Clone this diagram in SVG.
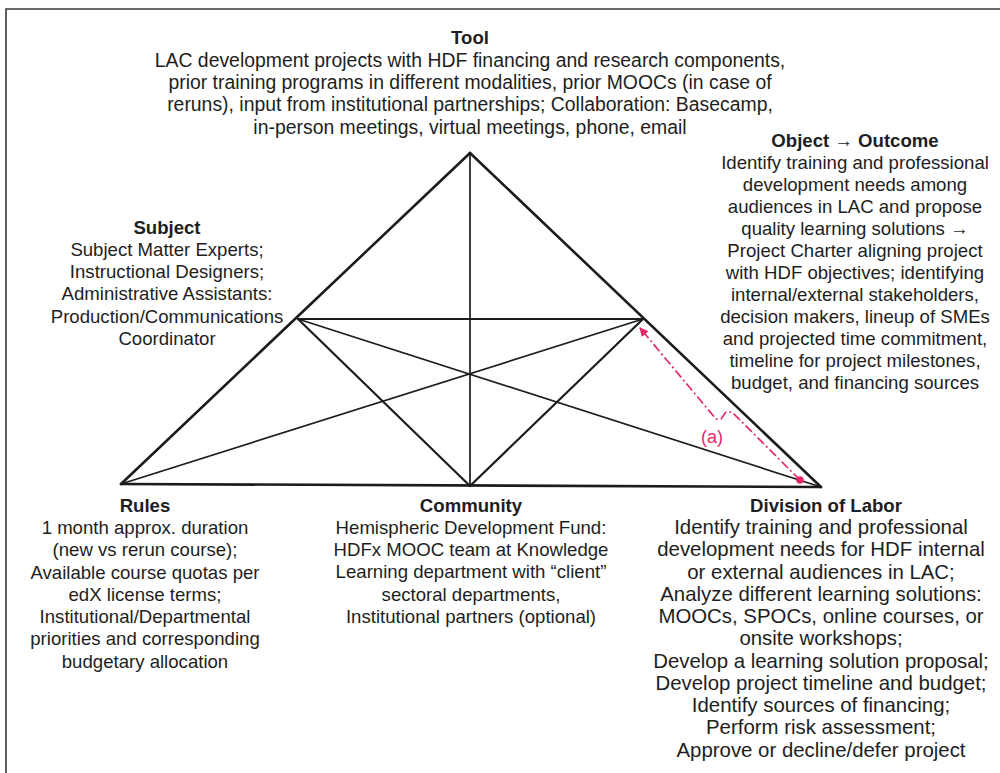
<svg xmlns="http://www.w3.org/2000/svg" width="1000" height="773" viewBox="0 0 1000 773">
  <defs>
    <style>
      text { font-family: "Liberation Sans", Arial, sans-serif; fill: #1e1e1e; text-anchor: middle; }
      .body { font-size: 18.6px; }
      .wide { font-size: 19.4px; }
      .head { font-size: 18.6px; font-weight: bold; }
      .dol { font-size: 20.4px; }
      .edge { stroke: #1c1c1c; stroke-width: 2.6; fill: none; stroke-linecap: round; }
      .inner { stroke: #1c1c1c; stroke-width: 2.2; fill: none; stroke-linecap: round; }
      .thin { stroke: #1c1c1c; stroke-width: 1.7; fill: none; stroke-linecap: round; }
      .trace { stroke: #e6286a; stroke-width: 1.7; fill: none; stroke-dasharray: 9 3 2 3; }
      .trace-label { font-size: 18px; fill: #e6286a; }
    </style>
    <marker id="redHead" viewBox="0 0 10 10" refX="9" refY="5" markerWidth="9" markerHeight="9" markerUnits="userSpaceOnUse" orient="auto">
      <path d="M0,0 L10,5 L0,10 z" fill="#e6286a"/>
    </marker>
  </defs>

  <rect x="0" y="0" width="1000" height="773" fill="#ffffff"/>

  <!-- frame: top and left rules only -->
  <path d="M6,773 L6,9 L1000,9" fill="none" stroke="#3a3a3a" stroke-width="1.6"/>

  <!-- activity-system triangle -->
  <g id="connectors">
    <line class="edge" x1="470" y1="153" x2="121" y2="484"/>
    <line class="edge" x1="470" y1="153" x2="821" y2="487"/>
    <line class="edge" x1="121" y1="484" x2="821" y2="487"/>
    <line class="inner" x1="298" y1="319" x2="643" y2="319"/>
    <line class="thin" x1="470" y1="153" x2="470" y2="486"/>
    <line class="inner" x1="298" y1="319" x2="470" y2="486"/>
    <line class="inner" x1="643" y1="319" x2="470" y2="486"/>
    <line class="thin" x1="298" y1="319" x2="821" y2="487"/>
    <line class="thin" x1="643" y1="319" x2="121" y2="484"/>

    <!-- trace (a): division of labor back to object -->
    <g id="trace-a">
      <path class="trace" d="M800,480 L732,412 L726,412 L721,419 L716,419 L640,328" marker-end="url(#redHead)"/>
      <circle cx="800" cy="480" r="3.8" fill="#e6286a"/>
      <text class="trace-label" x="712" y="443">(a)</text>
    </g>
  </g>

  <g id="tool">
    <text class="head" x="470" y="44">Tool</text>
    <text class="wide" x="470" y="67">LAC development projects with HDF financing and research components,</text>
    <text class="wide" x="470" y="89">prior training programs in different modalities, prior MOOCs (in case of</text>
    <text class="wide" x="470" y="111">reruns), input from institutional partnerships; Collaboration: Basecamp,</text>
    <text class="wide" x="470" y="134">in-person meetings, virtual meetings, phone, email</text>
  </g>

  <g id="subject">
    <text class="head" x="167" y="234">Subject</text>
    <text class="body" x="167" y="256">Subject Matter Experts;</text>
    <text class="body" x="167" y="278">Instructional Designers;</text>
    <text class="body" x="167" y="300">Administrative Assistants:</text>
    <text class="body" x="167" y="323">Production/Communications</text>
    <text class="body" x="167" y="345">Coordinator</text>
  </g>

  <g id="object-outcome">
    <text class="head" x="855" y="147">Object → Outcome</text>
    <text class="body" x="855" y="169">Identify training and professional</text>
    <text class="body" x="855" y="191">development needs among</text>
    <text class="body" x="855" y="213">audiences in LAC and propose</text>
    <text class="body" x="855" y="235">quality learning solutions →</text>
    <text class="body" x="855" y="257">Project Charter aligning project</text>
    <text class="body" x="855" y="279">with HDF objectives; identifying</text>
    <text class="body" x="855" y="301">internal/external stakeholders,</text>
    <text class="body" x="855" y="323">decision makers, lineup of SMEs</text>
    <text class="body" x="855" y="345">and projected time commitment,</text>
    <text class="body" x="855" y="367">timeline for project milestones,</text>
    <text class="body" x="855" y="389">budget, and financing sources</text>
  </g>

  <g id="rules">
    <text class="head" x="145" y="512">Rules</text>
    <text class="body" x="145" y="534">1 month approx. duration</text>
    <text class="body" x="145" y="556">(new vs rerun course);</text>
    <text class="body" x="145" y="579">Available course quotas per</text>
    <text class="body" x="145" y="601">edX license terms;</text>
    <text class="body" x="145" y="623">Institutional/Departmental</text>
    <text class="body" x="145" y="645">priorities and corresponding</text>
    <text class="body" x="145" y="668">budgetary allocation</text>
  </g>

  <g id="community">
    <text class="head" x="471" y="512">Community</text>
    <text class="body" x="471" y="534">Hemispheric Development Fund:</text>
    <text class="body" x="471" y="556">HDFx MOOC team at Knowledge</text>
    <text class="body" x="471" y="578">Learning department with “client”</text>
    <text class="body" x="471" y="601">sectoral departments,</text>
    <text class="body" x="471" y="623">Institutional partners (optional)</text>
  </g>

  <g id="division-of-labor">
    <text class="head" x="826" y="512">Division of Labor</text>
    <text class="dol" x="821" y="534">Identify training and professional</text>
    <text class="dol" x="821" y="556">development needs for HDF internal</text>
    <text class="dol" x="821" y="579">or external audiences in LAC;</text>
    <text class="dol" x="821" y="601">Analyze different learning solutions:</text>
    <text class="dol" x="821" y="623">MOOCs, SPOCs, online courses, or</text>
    <text class="dol" x="821" y="645">onsite workshops;</text>
    <text class="dol" x="821" y="668">Develop a learning solution proposal;</text>
    <text class="dol" x="821" y="690">Develop project timeline and budget;</text>
    <text class="dol" x="821" y="712">Identify sources of financing;</text>
    <text class="dol" x="821" y="734">Perform risk assessment;</text>
    <text class="dol" x="821" y="757">Approve or decline/defer project</text>
  </g>
</svg>
